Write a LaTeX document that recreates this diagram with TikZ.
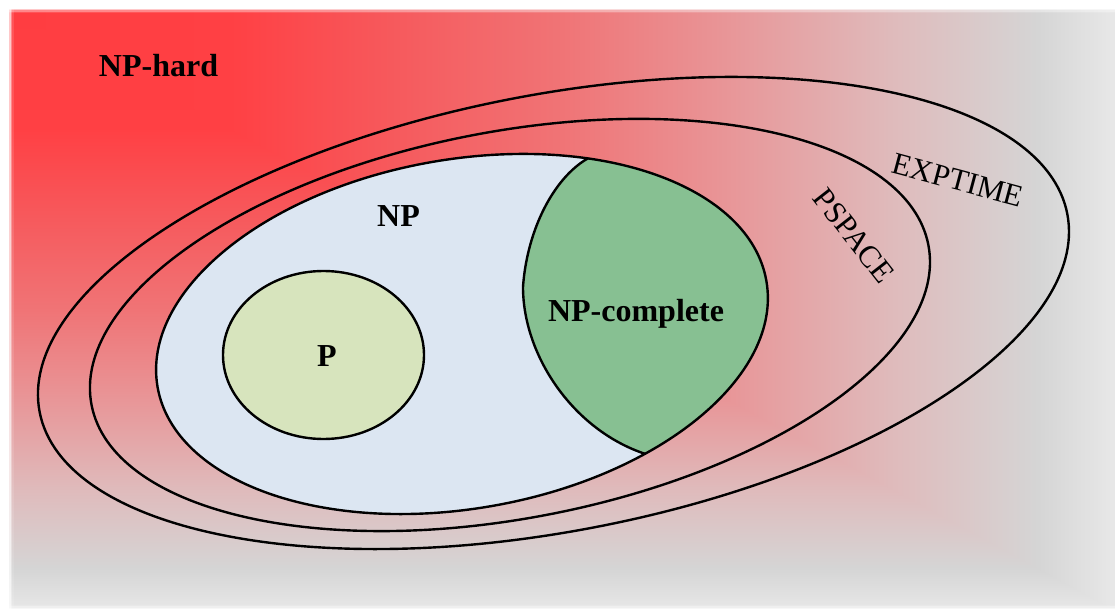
\documentclass[tikz,border=0pt]{standalone}
\usepackage{fontspec}
\setmainfont{Liberation Serif}

% colour stops of the corner-anchored background gradient (red -> grey)
\definecolor{bgS0}{HTML}{FF3D41}
\definecolor{bgS1}{HTML}{FF4044}
\definecolor{bgS2}{HTML}{F65A5D}
\definecolor{bgS3}{HTML}{F07476}
\definecolor{bgS4}{HTML}{E89698}
\definecolor{bgS5}{HTML}{DFBBBC}
\definecolor{bgS6}{HTML}{D5D5D5}
\definecolor{bgS7}{HTML}{E0E0E0}
\definecolor{bgS8}{HTML}{E8E8E8}

\definecolor{npfill}{HTML}{DCE6F2}
\definecolor{pfill}{HTML}{D7E4BD}
\definecolor{npcfill}{HTML}{87C092}

% the path's box maps to 25bp..75bp of each shading
\pgfdeclarehorizontalshading{bgh}{100bp}{%
  color(0bp)=(bgS0); color(25bp)=(bgS0); color(35bp)=(bgS1);
  color(42.5bp)=(bgS2); color(50bp)=(bgS3); color(57.5bp)=(bgS4);
  color(65bp)=(bgS5); color(71.5bp)=(bgS6); color(73.5bp)=(bgS7);
  color(75bp)=(bgS8); color(100bp)=(bgS8)}
\pgfdeclareverticalshading{bgv}{100bp}{%
  color(0bp)=(bgS8); color(25bp)=(bgS8); color(26.5bp)=(bgS7);
  color(28.5bp)=(bgS6); color(35bp)=(bgS5); color(42.5bp)=(bgS4);
  color(50bp)=(bgS3); color(57.5bp)=(bgS2); color(65bp)=(bgS1);
  color(75bp)=(bgS0); color(100bp)=(bgS0)}

\tikzset{
  setline/.style={line width=2.4pt, draw=black},
  boldlab/.style={inner sep=0pt, font=\fontsize{32}{38}\selectfont\bfseries},
  plainlab/.style={inner sep=0pt, font=\fontsize{31}{37}\selectfont},
}

\begin{document}
\begin{tikzpicture}[x=1pt, y=-1pt]
\useasboundingbox (0,0) rectangle (1115,612);
\fill[white] (0,0) rectangle (1115,612);

% background: rectangular gradient spreading from the top-left corner
\shade[shading=bgv] (9,9) rectangle (1116,611);
\begin{scope}
  \clip (9,9) -- (1116,9) -- (1116,611) -- cycle;
  \shade[shading=bgh] (9,9) rectangle (1116,611);
\end{scope}

% feathered outer edges
\foreach \d/\o in {9/1, 10.5/.55, 12/.3, 13.5/.12} {
  \fill[white, opacity=\o] (0,0) rectangle (1115,\d);
  \fill[white, opacity=\o] (0,0) rectangle (\d,612);
  \fill[white, opacity=\o] (0,612) rectangle (1115,618-\d);
}

% class outlines
\coordinate (cexp) at (553.5,313);
\coordinate (cps) at (510,325);
\coordinate (cnp) at (462,334);
\coordinate (cp) at (323.5,355);

\draw[setline, rotate around={10.9:(cexp)}] (cexp) ellipse [x radius=523.3, y radius=218.2];
\draw[setline, rotate around={10.8:(cps)}] (cps) ellipse [x radius=426, y radius=193.4];
\fill[npfill, rotate around={9.9:(cnp)}] (cnp) ellipse [x radius=309, y radius=174.6];

\draw[setline, fill=pfill] (cp) ellipse [x radius=100.5, y radius=84];

% NP-complete region: the part of NP to the right of its curved border
\begin{scope}
  \clip[rotate around={9.9:(cnp)}] (cnp) ellipse [x radius=309, y radius=174.6];
  \draw[setline, fill=npcfill]
    (620,150) .. controls (570,148) and (528,215) .. (523,287)
    .. controls (523,360) and (580,440) .. (660,458)
    -- (790,470) -- (800,300) -- (790,130) -- cycle;
\end{scope}
\draw[setline, rotate around={9.9:(cnp)}] (cnp) ellipse [x radius=309, y radius=174.6];

% labels
\node[boldlab, anchor=base] (nphard) at (158.5,77) {NP-hard};
\node[boldlab, anchor=base] (np) at (398.5,227) {NP};
\node[boldlab, anchor=base] (p) at (327,366) {P};
\node[boldlab, anchor=base] (npc) at (636,321) {NP-complete};
\node[plainlab, rotate=-15] (exptime) at (958,180) {EXPTIME};
\node[plainlab, rotate=-52] (pspace) at (854,236) {PSPACE};
\end{tikzpicture}
\end{document}
